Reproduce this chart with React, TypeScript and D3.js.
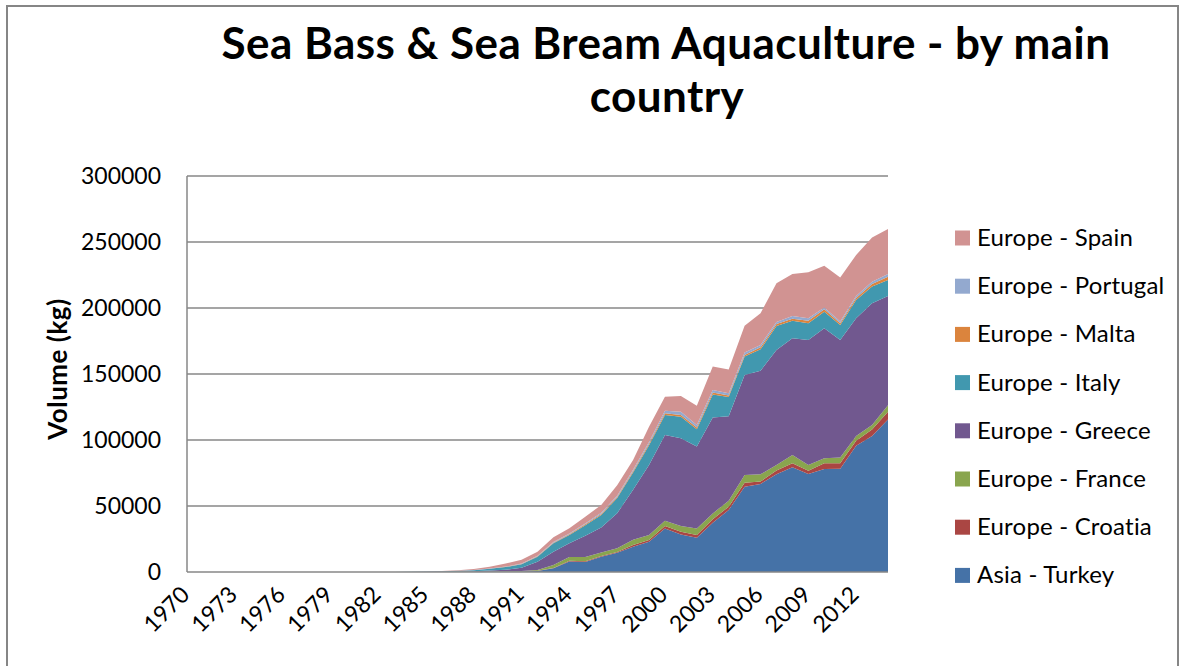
import React from 'react';
import * as d3 from 'd3';

const years = d3.range(1970, 2015);
const yTicks = [0, 50000, 100000, 150000, 200000, 250000, 300000];
const xTickYears = [1970, 1973, 1976, 1979, 1982, 1985, 1988, 1991, 1994, 1997, 2000, 2003, 2006, 2009, 2012];

const seriesNames = ['Asia - Turkey', 'Europe - Croatia', 'Europe - France', 'Europe - Greece', 'Europe - Italy', 'Europe - Malta', 'Europe - Portugal', 'Europe - Spain'];
const seriesColors = ['#4572A7', '#AA4643', '#89A54E', '#71588F', '#4198AF', '#DB843D', '#93A9CF', '#D19392'];

const turkey = [0, 0, 0, 0, 0, 0, 0, 0, 0, 0, 0, 0, 0, 0, 0, 0, 0, 0,
  50, 100, 200, 400, 800, 2800, 8000, 7600, 11600, 14500, 19200, 23000, 33000, 28500, 26000, 37400, 47000, 64600, 66700, 74000, 79300, 74200, 78000, 78300, 95700, 103000, 115600];
const croatia = [0, 0, 0, 0, 0, 0, 0, 0, 0, 0, 0, 0, 0, 0, 0, 0, 0, 0, 0, 0, 0, 0,
  100, 300, 500, 500, 600, 700, 1200, 1300, 1800, 2000, 2000, 2500, 2500, 3000, 1800, 2800, 3000, 2500, 4300, 4000, 3800, 5000, 5800];
const france = [0, 0, 0, 0, 0, 0, 0, 0, 0, 0, 0, 0, 0, 0, 0, 0,
  50, 100, 150, 200, 300, 400, 600, 2200, 2800, 3300, 2500, 2800, 4000, 3700, 4100, 4300, 5000, 4500, 4500, 5800, 5500, 4300, 6300, 4300, 3800, 4500, 3500, 3300, 5000];
const greece = [0, 0, 0, 0, 0, 0, 0, 0, 0, 0, 0, 0, 0, 0,
  50, 100, 200, 300, 400, 800, 1200, 2500, 6300, 10100, 10400, 16000, 19000, 26500, 38000, 53000, 64900, 66500, 62000, 72600, 64000, 75800, 78500, 87100, 88400, 94800, 98500, 89000, 89200, 92300, 82700];
const italy = [0, 0, 0, 0, 0, 0, 0, 0, 0, 0, 0, 0, 0,
  50, 100, 200, 350, 500, 700, 1300, 2000, 2500, 3800, 6300, 6300, 8000, 9500, 11500, 13000, 15000, 15100, 16300, 13100, 17500, 14500, 14000, 16200, 18200, 13400, 12600, 12600, 11300, 13900, 12600, 12100];
const malta = [0, 0, 0, 0, 0, 0, 0, 0, 0, 0, 0, 0, 0, 0, 0, 0, 0,
  50, 100, 150, 200, 300, 400, 500, 600, 700, 800, 900, 1000, 1200, 1300, 1300, 1300, 1500, 1200, 1200, 1500, 1500, 1500, 2000, 1800, 1300, 1500, 2000, 2500];
const portugal = [0, 0, 0, 0, 0, 0, 0, 0, 0, 0, 0, 0, 0, 0, 0, 0, 0,
  50, 100, 150, 200, 300, 400, 500, 600, 700, 800, 900, 1000, 1300, 2000, 2500, 2000, 1900, 1800, 1800, 1800, 1500, 2000, 1800, 1300, 1300, 1500, 1700, 2100];
const spain = [0, 0, 0, 0, 0, 0, 0, 0, 0, 0, 0, 0, 0,
  30, 50, 100, 200, 300, 700, 1200, 2300, 2800, 3000, 3600, 3900, 5000, 6000, 8000, 7500, 11500, 10600, 11900, 14600, 17700, 18000, 20400, 24000, 29300, 31900, 34800, 31800, 33500, 31100, 33600, 34100];

const seriesValues = [turkey, croatia, france, greece, italy, malta, portugal, spain];

const W = 1186;
const H = 666;
const plot = { left: 187, right: 888, top: 176, bottom: 572 };
const FONT = 'Lato, "Open Sans", sans-serif';
const GRID = '#878787';

export default function App() {
  // table for d3.stack: one row per year
  const rows = years.map((yr, i) => {
    const r: Record<string, number> = { year: yr };
    seriesNames.forEach((name, s) => { r[name] = seriesValues[s][i]; });
    return r;
  });
  const stacked = d3.stack<Record<string, number>>().keys(seriesNames)(rows);

  const x = d3.scaleLinear().domain([1970, 2014]).range([plot.left, plot.right]);
  const y = d3.scaleLinear().domain([0, 300000]).range([plot.bottom, plot.top]);

  const area = d3.area<d3.SeriesPoint<Record<string, number>>>()
    .x(d => x(d.data.year))
    .y0(d => y(d[0]))
    .y1(d => y(d[1]));

  const legendOrder = seriesNames.map((n, i) => i).reverse();

  return (
    <div style={{ position: 'absolute', left: 0, top: 0 }}>
      <svg width={W} height={H} style={{ display: 'block', background: '#fff' }}>
        <rect x={7} y={6} width={1171} height={700} fill="#fff" stroke="#868686" strokeWidth={2} />

        <text x={666} y={59} textAnchor="middle" fontFamily={FONT} fontWeight={700} fontSize={44} letterSpacing={0.45} fill="#000">
          Sea Bass &amp; Sea Bream Aquaculture - by main
        </text>
        <text x={667} y={112} textAnchor="middle" fontFamily={FONT} fontWeight={700} fontSize={44} letterSpacing={0.45} fill="#000">
          country
        </text>

        {/* gridlines */}
        {yTicks.filter(t => t > 0).map(t => (
          <line key={t} x1={plot.left} x2={plot.right} y1={y(t)} y2={y(t)} stroke={GRID} strokeWidth={1.5} />
        ))}

        {/* stacked areas */}
        {stacked.map((s, i) => (
          <path key={s.key} d={area(s) || ''} fill={seriesColors[i]} />
        ))}

        {/* axes */}
        <line x1={plot.left} x2={plot.left} y1={plot.top} y2={plot.bottom} stroke={GRID} strokeWidth={1.5} />
        <line x1={plot.left} x2={plot.right} y1={plot.bottom} y2={plot.bottom} stroke={GRID} strokeWidth={1.5} />

        {yTicks.map(t => (
          <text key={t} x={161} y={y(t) + 8} textAnchor="end" fontFamily={FONT} fontSize={23} fill="#000">
            {t}
          </text>
        ))}

        {xTickYears.map(yr => {
          const tx = x(yr) + 4;
          const ty = 596;
          return (
            <text key={yr} x={tx} y={ty} textAnchor="end" transform={`rotate(-45, ${tx}, ${ty})`}
              fontFamily={FONT} fontSize={23} fill="#000">
              {yr}
            </text>
          );
        })}

        <text transform={`translate(67, 369) rotate(-90)`} textAnchor="middle" fontFamily={FONT} fontWeight={700} fontSize={26} letterSpacing={0.5} fill="#000">
          Volume (kg)
        </text>

        {/* legend */}
        {legendOrder.map((si, k) => {
          const cy = 238 + k * 48.2;
          return (
            <g key={seriesNames[si]}>
              <rect x={955} y={cy - 7.5} width={15} height={15} fill={seriesColors[si]} />
              <text x={977} y={cy + 8} fontFamily={FONT} fontSize={24} letterSpacing={0.2} fill="#000">{seriesNames[si]}</text>
            </g>
          );
        })}
      </svg>
    </div>
  );
}
